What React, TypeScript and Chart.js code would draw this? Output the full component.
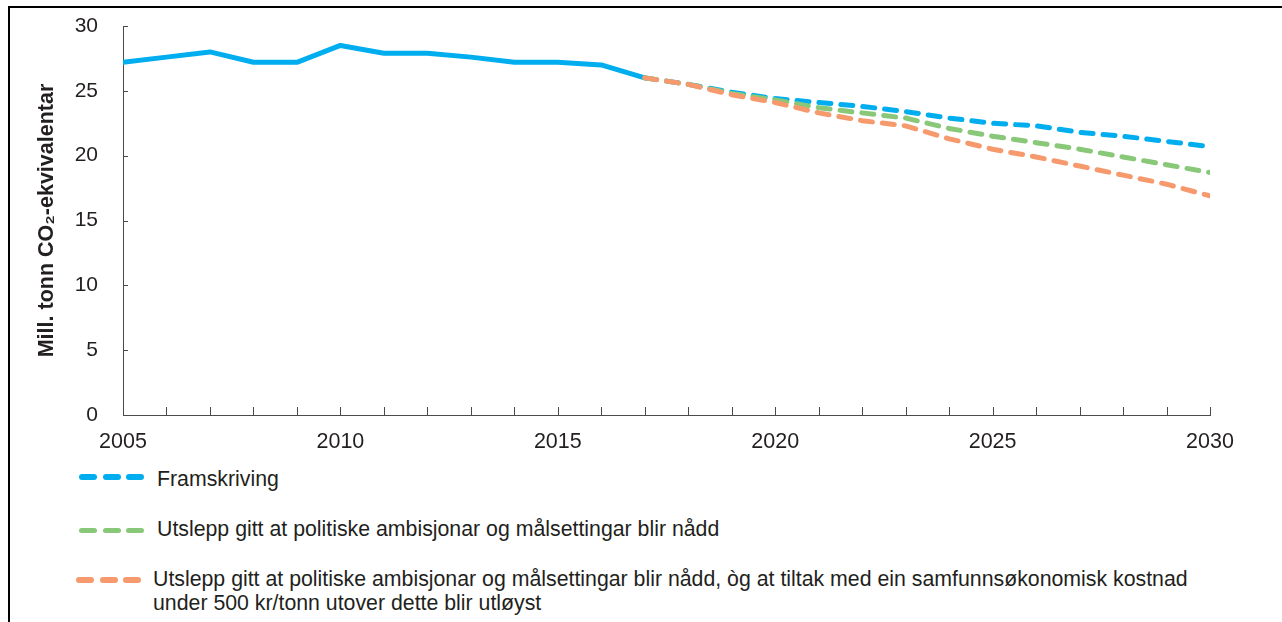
import React, { useEffect, useRef } from "react";
import { Chart, registerables } from "chart.js";

Chart.register(...registerables);

// ---------- data ----------
const historicalYears = [2005, 2006, 2007, 2008, 2009, 2010, 2011, 2012, 2013, 2014, 2015, 2016, 2017];
const historicalValues = [27.2, 27.6, 28.0, 27.2, 27.2, 28.5, 27.9, 27.9, 27.6, 27.2, 27.2, 27.0, 26.0];

const projectionYears = [2017, 2018, 2019, 2020, 2021, 2022, 2023, 2024, 2025, 2026, 2027, 2028, 2029, 2030];
const framskriving = [26.0, 25.5, 24.9, 24.4, 24.1, 23.8, 23.4, 22.9, 22.5, 22.3, 21.8, 21.5, 21.1, 20.7];
const politiskeMaal = [26.0, 25.5, 24.8, 24.3, 23.7, 23.3, 22.9, 22.1, 21.5, 21.0, 20.5, 19.9, 19.3, 18.7];
const medTiltak = [26.0, 25.5, 24.7, 24.1, 23.3, 22.7, 22.3, 21.3, 20.5, 19.9, 19.2, 18.5, 17.8, 16.9];

const seriesLabels = [
  "Framskriving",
  "Utslepp gitt at politiske ambisjonar og målsettingar blir nådd",
  "Utslepp gitt at politiske ambisjonar og målsettingar blir nådd, òg at tiltak med ein samfunnsøkonomisk kostnad\nunder 500 kr/tonn utover dette blir utløyst",
];
const seriesColors = ["#00AEEF", "#88C878", "#F6996C"];

const yTitle = "Mill. tonn CO₂-ekvivalentar";
const xMin = 2005;
const xMax = 2030;
const xLabelStep = 5;
const yMin = 0;
const yMax = 30;
const yStep = 5;

// ---------- styling ----------
const FONT = "'Liberation Sans', Arial, Helvetica, sans-serif";
const TEXT = "#231F20";
const AXIS = "#4a4a4a";

const toPoints = (xs: number[], ys: number[]) => xs.map((x, i) => ({ x, y: ys[i] }));

const tickMarks = {
  id: "tickMarks",
  afterDraw(chart: any) {
    const { ctx, chartArea, scales } = chart;
    const x = scales.x;
    const y = scales.y;
    ctx.save();
    ctx.strokeStyle = AXIS;
    ctx.lineWidth = 1;
    ctx.beginPath();
    x.ticks.forEach((t: any) => {
      const px = Math.round(x.getPixelForValue(t.value)) + 0.5;
      ctx.moveTo(px, chartArea.bottom);
      ctx.lineTo(px, chartArea.bottom - 8);
    });
    y.ticks.forEach((t: any) => {
      const py = Math.round(y.getPixelForValue(t.value)) + 0.5;
      ctx.moveTo(chartArea.left, py);
      ctx.lineTo(chartArea.left + 5, py);
    });
    ctx.stroke();
    ctx.restore();
  },
};

function LegendSample({ color }: { color: string }) {
  const dash: React.CSSProperties = {
    display: "inline-block",
    width: 18,
    height: 5.5,
    borderRadius: 3,
    background: color,
    marginRight: 5.5,
  };
  return (
    <span style={{ display: "flex" }}>
      <span style={dash} />
      <span style={dash} />
      <span style={{ ...dash, marginRight: 0 }} />
    </span>
  );
}

export default function App() {
  const canvasRef = useRef<HTMLCanvasElement | null>(null);

  useEffect(() => {
    const canvas = canvasRef.current;
    if (!canvas) return;
    const dashed = {
      borderWidth: 5,
      borderDash: [12, 10],
      borderCapStyle: "round" as const,
      pointRadius: 0,
      tension: 0,
      fill: false,
    };
    const chart = new Chart(canvas, {
      type: "line",
      data: {
        datasets: [
          {
            label: seriesLabels[2],
            data: toPoints(projectionYears, medTiltak),
            borderColor: seriesColors[2],
            order: 0,
            ...dashed,
          },
          {
            label: seriesLabels[1],
            data: toPoints(projectionYears, politiskeMaal),
            borderColor: seriesColors[1],
            order: 1,
            ...dashed,
          },
          {
            label: seriesLabels[0],
            data: toPoints(projectionYears, framskriving),
            borderColor: seriesColors[0],
            order: 2,
            ...dashed,
          },
          {
            label: "Historisk",
            data: toPoints(historicalYears, historicalValues),
            borderColor: seriesColors[0],
            borderWidth: 5,
            borderJoinStyle: "round",
            borderCapStyle: "round",
            pointRadius: 0,
            tension: 0,
            fill: false,
            order: 3,
          },
        ],
      },
      options: {
        animation: false,
        responsive: false,
        devicePixelRatio: 1,
        events: [],
        layout: { padding: { left: 0, right: 72, top: 26, bottom: 0 } },
        plugins: {
          legend: { display: false },
          tooltip: { enabled: false },
          title: { display: false },
        },
        scales: {
          x: {
            type: "linear",
            min: xMin,
            max: xMax,
            offset: false,
            grid: { display: true, drawOnChartArea: false, drawTicks: false },
            border: { display: true, color: AXIS, width: 1 },
            ticks: {
              stepSize: 1,
              autoSkip: false,
              maxRotation: 0,
              padding: 14,
              color: TEXT,
              font: { family: FONT, size: 21.5 },
              callback: (v: any) => (Number(v) % xLabelStep === 0 ? String(v) : ""),
            },
            afterFit: (scale: any) => {
              scale.height = 40;
            },
          },
          y: {
            min: yMin,
            max: yMax,
            grid: { display: true, drawOnChartArea: false, drawTicks: false },
            border: { display: true, color: AXIS, width: 1 },
            ticks: {
              stepSize: yStep,
              padding: 25,
              color: TEXT,
              font: { family: FONT, size: 21 },
            },
            title: {
              display: true,
              text: yTitle,
              color: TEXT,
              font: { family: FONT, size: 21.5, weight: "bold", lineHeight: 1.2 },
              padding: { top: 34.5, bottom: 0 },
            },
            afterFit: (scale: any) => {
              scale.width = 123;
              scale.paddingTop = 10;
              scale.paddingBottom = 10;
            },
          },
        },
      },
      plugins: [tickMarks],
    });
    return () => chart.destroy();
  }, []);

  const legendRows = [
    { sampleLeft: 79, sampleY: 477, textLeft: 157, textTop: 467 },
    { sampleLeft: 79, sampleY: 530.5, textLeft: 157, textTop: 517 },
    { sampleLeft: 76, sampleY: 580, textLeft: 153, textTop: 567 },
  ];

  return (
    <div
      style={{
        position: "fixed",
        left: 0,
        top: 0,
        width: 1282,
        height: 622,
        overflow: "hidden",
        background: "#fff",
        fontFamily: FONT,
      }}
    >
      <div
        style={{
          position: "absolute",
          left: 8,
          top: 6,
          width: 1300,
          height: 700,
          borderLeft: "2px solid #000",
          borderTop: "2px solid #000",
          boxSizing: "border-box",
        }}
      />
      <canvas
        ref={canvasRef}
        width={1282}
        height={455}
        style={{ position: "absolute", left: 0, top: 0, width: 1282, height: 455, display: "block" }}
      />
      {legendRows.map((r, i) => (
        <React.Fragment key={i}>
          <div
            style={{
              position: "absolute",
              left: r.sampleLeft,
              top: r.sampleY - 2.75,
            }}
          >
            <LegendSample color={seriesColors[i]} />
          </div>
          <div
            style={{
              position: "absolute",
              left: r.textLeft,
              top: r.textTop,
              fontSize: 21.3,
              lineHeight: "24px",
              color: TEXT,
              whiteSpace: "pre",
            }}
          >
            {seriesLabels[i]}
          </div>
        </React.Fragment>
      ))}
    </div>
  );
}
